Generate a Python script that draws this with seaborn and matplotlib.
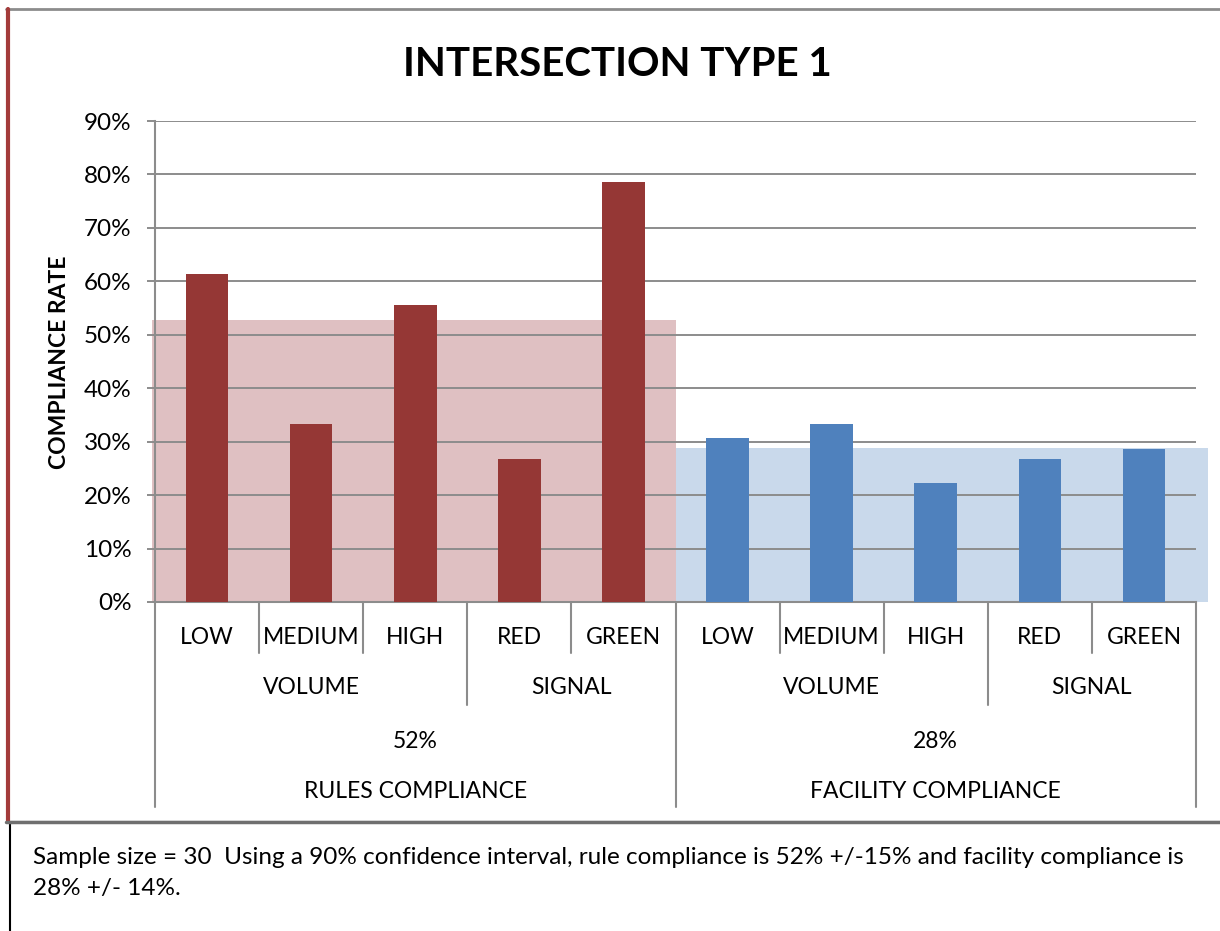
import pandas as pd
import matplotlib.pyplot as plt
import seaborn as sns
from matplotlib.lines import Line2D
from matplotlib.patches import Rectangle
from matplotlib.ticker import FuncFormatter

# chart data
level1 = ["LOW", "MEDIUM", "HIGH", "RED", "GREEN"]
level2 = ["VOLUME", "SIGNAL"]
level2_sizes = [3, 2]
level3 = ["52%", "28%"]
level4 = ["RULES COMPLIANCE", "FACILITY COMPLIANCE"]
rules_values = [61.4, 33.3, 55.5, 26.7, 78.6]
facility_values = [30.7, 33.3, 22.2, 26.7, 28.6]
group_means = [52.8, 28.9]
yticks = [0, 10, 20, 30, 40, 50, 60, 70, 80, 90]
title = "INTERSECTION TYPE 1"
ylabel = "COMPLIANCE RATE"
note_lines = [
    "Sample size = 30  Using a 90% confidence interval, rule compliance is 52% +/-15% and facility compliance is",
    "28% +/- 14%.",
]

W, H = 1220, 931
RED, BLUE = "#953735", "#4F81BD"
SHADES = ["#DFC0C2", "#C9D9EB"]
GRAY = "#8c8c8c"

sns.set_style("white")
plt.rcParams["font.family"] = ["Lato", "DejaVu Sans"]
plt.rcParams["text.color"] = "black"

df = pd.DataFrame({
    "slot": list(range(10)),
    "rate": rules_values + facility_values,
    "group": [level4[0]] * 5 + [level4[1]] * 5,
})

fig = plt.figure(figsize=(W / 100, H / 100), dpi=100)
ax = fig.add_axes([155 / W, 1 - 602 / H, (1196 - 155) / W, (602 - 121) / H])

sns.barplot(data=df, x="slot", y="rate", hue="group",
            palette={level4[0]: RED, level4[1]: BLUE},
            dodge=False, width=0.41, saturation=1, legend=False, ax=ax,
            zorder=3, linewidth=0)

# shaded group averages behind the bars
ax.bar([-0.53, 4.5], group_means, width=[5.03, 5.12], align="edge",
       color=SHADES, zorder=0.2, clip_on=False, linewidth=0)

ax.set_xlim(-0.5, 9.5)
ax.set_ylim(0, 90)
ax.set_yticks(yticks)
ax.yaxis.set_major_formatter(FuncFormatter(lambda v, _: f"{v:.0f}%"))
ax.set_axisbelow(True)
ax.yaxis.grid(True, color=GRAY, lw=1.4)
ax.set_xticks([])
ax.set_xlabel("")
ax.set_ylabel("")
ax.tick_params(axis="y", left=True, length=6, width=1.4, color=GRAY, pad=11,
               labelsize=17.5, labelcolor="black")
for s in ["top", "right"]:
    ax.spines[s].set_visible(False)
for s in ["left", "bottom"]:
    ax.spines[s].set_color(GRAY)
    ax.spines[s].set_linewidth(1.5)

# multi-level category axis
def frac(py):
    return -(py - 602) / 481

tr = ax.get_xaxis_transform()
n = len(level1)
for b in range(2 * n + 1):
    if b % n == 0:
        depth = 807
    elif (b % n) == level2_sizes[0]:
        depth = 705
    else:
        depth = 653
    ax.plot([b - 0.5, b - 0.5], [0, frac(depth)], transform=tr, color=GRAY,
            lw=1.5, clip_on=False)

fs = 16.5
for i, lab in enumerate(level1 * 2):
    ax.text(i, frac(637), lab, transform=tr, ha="center", va="center", fontsize=fs)

start = 0
for g in range(2):
    for name, size in zip(level2, level2_sizes):
        ax.text(start + (size - 1) / 2, frac(688), name, transform=tr,
                ha="center", va="center", fontsize=fs)
        start += size

for g in range(2):
    mid = g * n + (n - 1) / 2
    ax.text(mid, frac(742), level3[g], transform=tr, ha="center", va="center", fontsize=fs)
    ax.text(mid, frac(791), level4[g], transform=tr, ha="center", va="center", fontsize=fs)

fig.text(617 / W, 1 - 65 / H, title, ha="center", va="center", fontsize=29, weight="bold")
fig.text(60 / W, 1 - 362 / H, ylabel, rotation=90, ha="center", va="center",
         fontsize=16.5, weight="bold")

# chart frame and note box
fig.add_artist(Line2D([6 / W, 1], [1 - 9 / H, 1 - 9 / H], color=GRAY, lw=2))
fig.add_artist(Line2D([7.5 / W, 7.5 / W], [1 - 9 / H, 1 - 821 / H], color="#A33B3A", lw=3))
fig.add_artist(Rectangle((10 / W, -0.01), 1.0, 1 - 822 / H + 0.01, transform=fig.transFigure,
                         fill=False, edgecolor="black", lw=1.5))
fig.add_artist(Line2D([6 / W, 1], [1 - 822 / H, 1 - 822 / H], color="#6f6f6f", lw=2.5))

for k, line in enumerate(note_lines):
    fig.text(33 / W, 1 - (857 + 32 * k) / H, line, ha="left", va="center", fontsize=17.5)

fig.savefig("out.png", dpi=100)
